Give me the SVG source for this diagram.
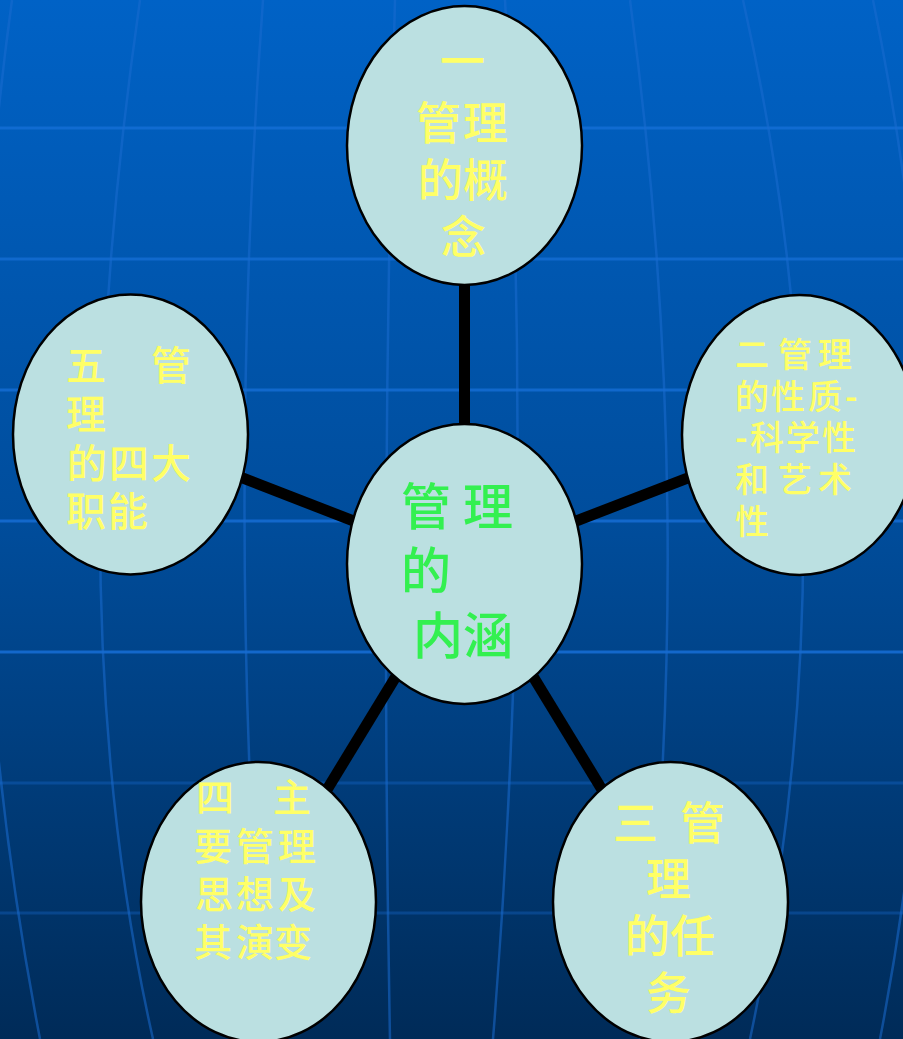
<svg xmlns="http://www.w3.org/2000/svg" width="903" height="1039" viewBox="0 0 903 1039">
<defs>
<linearGradient id="bg" x1="0" y1="0" x2="0" y2="1">
<stop offset="0" stop-color="#0062c6"/>
<stop offset="0.5" stop-color="#004d9c"/>
<stop offset="1" stop-color="#002b58"/>
</linearGradient>
<style>
.h{stroke:#1a74e0;stroke-width:3;fill:none}
.v{stroke:#1a6cd0;stroke-width:2.5;fill:none;opacity:0.55}
.node{fill:#bbe0e1;stroke:#000;stroke-width:2.5}
.conn{stroke:#000;stroke-width:11;stroke-linecap:butt}
.t{font-family:"Noto Sans CJK SC","Noto Sans CJK JP",sans-serif;font-weight:500;fill:#ffff66}
.g{font-family:"Noto Sans CJK SC","Noto Sans CJK JP",sans-serif;font-weight:500;fill:#33f050}
</style>
</defs>
<rect x="0" y="0" width="903" height="1039" fill="url(#bg)"/>
<g id="grid">
<line class="h" x1="0" y1="128" x2="903" y2="128" opacity="0.6"/>
<line class="h" x1="0" y1="259" x2="903" y2="259" opacity="0.6"/>
<line class="h" x1="0" y1="390" x2="903" y2="390" opacity="0.65"/>
<line class="h" x1="0" y1="521" x2="903" y2="521" opacity="0.7"/>
<line class="h" x1="0" y1="652" x2="903" y2="652" opacity="0.75"/>
<line class="h" x1="0" y1="783" x2="903" y2="783" opacity="0.3"/>
<line class="h" x1="0" y1="913" x2="903" y2="913" opacity="0.3"/>
<path class="v" d="M12,0 Q-60,520 40,1039"/>
<path class="v" d="M140,0 Q54,600 153,1039"/>
<path class="v" d="M263,0 Q225,520 265,1039"/>
<path class="v" d="M395,0 Q380,520 390,1039"/>
<path class="v" d="M505,0 Q535,520 493,1039"/>
<path class="v" d="M630,0 Q700,520 640,1039"/>
<path class="v" d="M743,0 Q860,520 750,1039"/>
<path class="v" d="M873,0 Q980,520 880,1039"/>
</g>
<g id="connectors">
<line class="conn" x1="464.5" y1="564" x2="464.5" y2="145.5"/>
<line class="conn" x1="464.5" y1="564" x2="130.5" y2="434.5"/>
<line class="conn" x1="464.5" y1="564" x2="799.5" y2="435"/>
<line class="conn" x1="464.5" y1="564" x2="258.5" y2="902"/>
<line class="conn" x1="464.5" y1="564" x2="670.5" y2="902"/>
</g>
<g id="node-top">
<ellipse class="node" cx="464.5" cy="145.5" rx="117.5" ry="139.5"/>
<text class="t" font-size="45"><tspan x="440" y="78">一</tspan><tspan x="416" y="140">管</tspan><tspan x="463" y="140">理</tspan><tspan x="418" y="197">的</tspan><tspan x="463" y="197">概</tspan><tspan x="441" y="254">念</tspan></text>
</g>
<g id="node-center">
<ellipse class="node" cx="464.5" cy="564" rx="117.5" ry="140"/>
<text class="g" font-size="50"><tspan x="401" y="525">管</tspan><tspan x="463" y="525">理</tspan><tspan x="401" y="589">的</tspan><tspan x="413" y="654">内</tspan><tspan x="463" y="654">涵</tspan></text>
</g>
<g id="node-right">
<ellipse class="node" cx="799.5" cy="435" rx="117.5" ry="140"/>
<text class="t" font-size="34"><tspan x="735" y="367">二</tspan><tspan x="778" y="367">管</tspan><tspan x="818" y="367">理</tspan><tspan x="735" y="409">的</tspan><tspan x="771" y="409">性</tspan><tspan x="808" y="409">质</tspan><tspan x="845" y="409" font-weight="bold">-</tspan><tspan x="735" y="450" font-weight="bold">-</tspan><tspan x="750" y="450">科</tspan><tspan x="786" y="450">学</tspan><tspan x="822" y="450">性</tspan><tspan x="735" y="492">和</tspan><tspan x="778" y="492">艺</tspan><tspan x="818" y="492">术</tspan><tspan x="735" y="534">性</tspan></text>
</g>
<g id="node-left">
<ellipse class="node" cx="130.5" cy="434.5" rx="117.5" ry="140"/>
<text class="t" font-size="40"><tspan x="66" y="380">五</tspan><tspan x="151" y="380">管</tspan><tspan x="66" y="429">理</tspan><tspan x="67" y="478">的</tspan><tspan x="109" y="478">四</tspan><tspan x="151" y="478">大</tspan><tspan x="66" y="526">职</tspan><tspan x="108" y="526">能</tspan></text>
</g>
<g id="node-bottom-left">
<ellipse class="node" cx="258.5" cy="902" rx="117.5" ry="140"/>
<text class="t" font-size="38"><tspan x="196" y="811">四</tspan><tspan x="273" y="811">主</tspan><tspan x="194" y="860">要</tspan><tspan x="236" y="860">管</tspan><tspan x="278" y="860">理</tspan><tspan x="195" y="908">思</tspan><tspan x="236" y="908">想</tspan><tspan x="278" y="908">及</tspan><tspan x="194" y="956">其</tspan><tspan x="236" y="956">演</tspan><tspan x="274" y="956">变</tspan></text>
</g>
<g id="node-bottom-right">
<ellipse class="node" cx="670.5" cy="902" rx="117.5" ry="140"/>
<text class="t" font-size="45"><tspan x="613" y="840">三</tspan><tspan x="680" y="840">管</tspan><tspan x="646" y="896">理</tspan><tspan x="625" y="953">的</tspan><tspan x="670" y="953">任</tspan><tspan x="646" y="1010">务</tspan></text>
</g>
</svg>
